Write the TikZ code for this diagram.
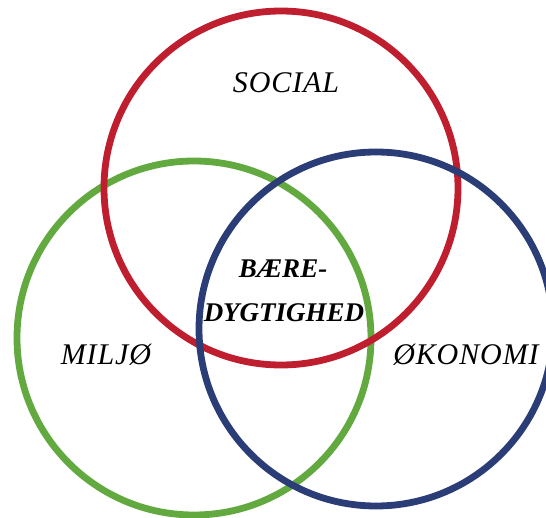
\documentclass[tikz,border=0pt]{standalone}
\usepackage{fontspec}
\usetikzlibrary{positioning}
\newfontfamily\vennfont{Liberation Serif}[LetterSpace=3]
\newfontfamily\corefont{Liberation Serif}
\definecolor{socialred}{RGB}{190,30,45}
\definecolor{miljogreen}{RGB}{98,170,64}
\definecolor{okoblue}{RGB}{43,61,119}

\begin{document}
\begin{tikzpicture}[
		x=1pt, y=-1pt,
		ring/.style = {draw=#1, circle, line width=6.8pt, minimum size=354pt, inner sep=0pt},
		word/.style = {font=\vennfont\fontsize{30}{34}\selectfont\itshape, inner sep=0pt, anchor=base},
		core/.style = {font=\corefont\fontsize{27}{32}\selectfont\bfseries\itshape, inner sep=0pt, anchor=base}
	]
	\useasboundingbox (0,0) rectangle (546,518);
	% Circles.
	\node[ring=miljogreen] (miljo) at (194,338) {};
	\node[ring=socialred] (social) at (281,188) {};
	\node[ring=okoblue] (okonomi) at (376,329) {};
	% Labels.
	\node[word] (socialtxt) at (286,93) {SOCIAL};
	\node[word] (miljotxt) at (106,365) {MILJØ};
	\node[word] (okonomitxt) at (466,365) {ØKONOMI};
	\node[core] (baere) at (283,278) {BÆRE-};
	\node[core] (dygtighed) at (284,322) {DYGTIGHED};
\end{tikzpicture}
\end{document}
